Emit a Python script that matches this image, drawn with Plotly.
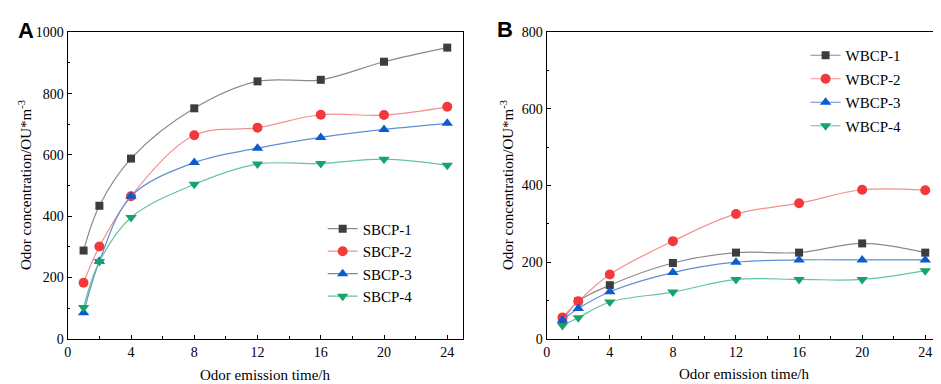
import plotly.graph_objects as go

# ---------------- data ----------------
time_h = [1, 2, 4, 8, 12, 16, 20, 24]

sbcp_names = ["SBCP-1", "SBCP-2", "SBCP-3", "SBCP-4"]
sbcp_1 = [288, 434, 588, 752, 840, 845, 904, 950]
sbcp_2 = [183, 301, 465, 664, 689, 731, 730, 757]
sbcp_3 = [85, 253, 465, 575, 622, 657, 683, 703]
sbcp_4 = [102, 252, 396, 504, 570, 572, 586, 566]

wbcp_names = ["WBCP-1", "WBCP-2", "WBCP-3", "WBCP-4"]
wbcp_1 = [47, 98, 140, 198, 225, 225, 249, 225]
wbcp_2 = [56, 98, 168, 255, 326, 354, 389, 388]
wbcp_3 = [49, 79, 123, 173, 200, 206, 206, 206]
wbcp_4 = [35, 55, 96, 122, 155, 155, 155, 178]

x_ticks = [0, 4, 8, 12, 16, 20, 24]
y_ticks_a = [0, 200, 400, 600, 800, 1000]
y_ticks_b = [0, 200, 400, 600, 800]

# ---------------- styles ----------------
line_colors = ["#8a8a8a", "#f29090", "#5d90d2", "#62c49c"]
marker_colors = ["#3d3d3d", "#f23a3c", "#0a5ccf", "#14a56b"]
symbols = ["square", "circle", "triangle-up", "triangle-down"]
sizes = [8, 10, 10, 10]
SERIF = "Times New Roman, Liberation Serif, serif"

fig = go.Figure()

def add_series(names, series, xa, ya, legend):
    for i, (name, ys) in enumerate(zip(names, series)):
        fig.add_trace(go.Scatter(
            x=time_h, y=ys, name=name, mode="lines+markers",
            xaxis=xa, yaxis=ya, legend=legend, legendgroup=legend + name,
            line=dict(color=line_colors[i], width=1.2, shape="spline", smoothing=1.0),
            marker=dict(symbol=symbols[i], size=sizes[i], color=marker_colors[i],
                        line=dict(width=0)),
            cliponaxis=False,
        ))

add_series(sbcp_names, [sbcp_1, sbcp_2, sbcp_3, sbcp_4], "x", "y", "legend")
add_series(wbcp_names, [wbcp_1, wbcp_2, wbcp_3, wbcp_4], "x2", "y2", "legend2")

W, H = 941, 384
ydom = [1 - 337 / H, 1 - 18 / H]

axis_common = dict(
    showline=True, linecolor="black", linewidth=1.3, mirror=True,
    ticks="inside", ticklen=4, tickwidth=1, tickcolor="black",
    showgrid=False, zeroline=False,
    tickfont=dict(family=SERIF, size=14, color="black"),
)

fig.update_layout(
    width=W, height=H,
    margin=dict(l=0, r=0, t=0, b=0),
    paper_bgcolor="white", plot_bgcolor="white",
    font=dict(family=SERIF, color="black"),
    xaxis=dict(domain=[56 / W, 453 / W], range=[0, 25], tickvals=x_ticks,
               minor=dict(dtick=2, tick0=0, ticks="inside", ticklen=2.5, tickcolor="black"),
               anchor="y", **axis_common),
    yaxis=dict(domain=ydom, range=[0, 1000], tickvals=y_ticks_a,
               minor=dict(dtick=100, tick0=0, ticks="inside", ticklen=2.5, tickcolor="black"),
               anchor="x", **axis_common),
    xaxis2=dict(domain=[537 / W, 933 / W], range=[0, 25], tickvals=x_ticks,
                minor=dict(dtick=2, tick0=0, ticks="inside", ticklen=2.5, tickcolor="black"),
                anchor="y2", **axis_common),
    yaxis2=dict(domain=ydom, range=[0, 800], tickvals=y_ticks_b,
                minor=dict(dtick=100, tick0=0, ticks="inside", ticklen=2.5, tickcolor="black"),
                anchor="x2", **axis_common),
    legend=dict(x=312 / W, y=1 - 205.5 / H, xanchor="left", yanchor="top",
                bgcolor="rgba(0,0,0,0)", borderwidth=0, tracegroupgap=0,
                font=dict(family=SERIF, size=15, color="black")),
    legend2=dict(x=797 / W, y=1 - 25 / H, xanchor="left", yanchor="top",
                 bgcolor="rgba(0,0,0,0)", borderwidth=0, tracegroupgap=1,
                 font=dict(family=SERIF, size=15, color="black")),
    showlegend=True,
)

annotations = [
    dict(text="<b>A</b>", x=4 / W, y=1 - 16 / H, xanchor="left", yanchor="middle",
         font=dict(family="Liberation Sans, Arial, sans-serif", size=22, color="black")),
    dict(text="<b>B</b>", x=485 / W, y=1 - 15 / H, xanchor="left", yanchor="middle",
         font=dict(family="Liberation Sans, Arial, sans-serif", size=22, color="black")),
    dict(text="Odor concentration/OU*m<sup>-3</sup>", x=13 / W, y=1 - 177 / H,
         textangle=-90, xanchor="center", yanchor="middle",
         font=dict(family=SERIF, size=15, color="black")),
    dict(text="Odor concentration/OU*m<sup>-3</sup>", x=497 / W, y=1 - 177 / H,
         textangle=-90, xanchor="center", yanchor="middle",
         font=dict(family=SERIF, size=15, color="black")),
    dict(text="Odor emission time/h", x=254 / W, y=1 - 375 / H,
         xanchor="center", yanchor="middle",
         font=dict(family=SERIF, size=15, color="black")),
    dict(text="Odor emission time/h", x=735 / W, y=1 - 374 / H,
         xanchor="center", yanchor="middle",
         font=dict(family=SERIF, size=15, color="black")),
]
for a in annotations:
    a.update(xref="paper", yref="paper", showarrow=False)
fig.update_layout(annotations=annotations)

fig.write_html("out.html")
